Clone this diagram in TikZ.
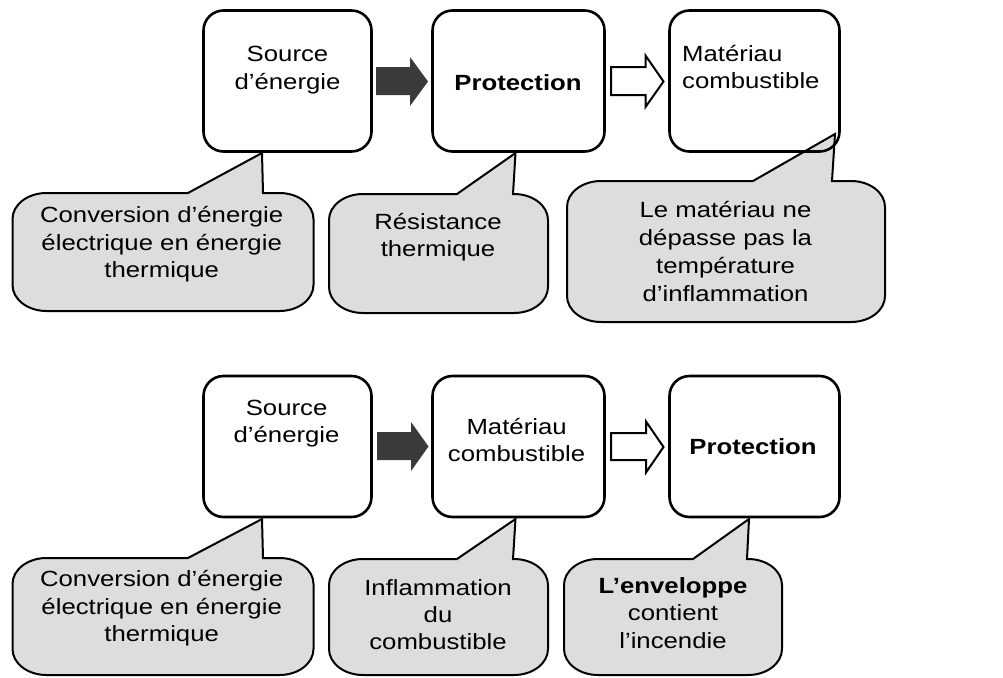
\documentclass[tikz,border=0pt]{standalone}
\usepackage{fontspec}
\setmainfont{Liberation Sans}[FakeStretch=1.17]
\definecolor{callgray}{RGB}{221,221,221}
\definecolor{arrdark}{RGB}{58,58,58}
\newcommand{\st}{\rule{0pt}{19pt}}
% #1 x1, #2 y1, #3 x2, #4 y2, #5 left base, #6 right base, #7 tip x, #8 tip y
\newcommand{\calloutshape}[8]{%
  \draw[calloutbox] (#5,#2) -- (#7,#8) -- (#6,#2)
  -- ({#3-34},#2) .. controls ({#3-15.2},#2) and (#3,{#2+11.6}) .. (#3,{#2+26})
  -- (#3,{#4-26}) .. controls (#3,{#4-11.6}) and ({#3-15.2},#4) .. ({#3-34},#4)
  -- ({#1+34},#4) .. controls ({#1+15.2},#4) and (#1,{#4-11.6}) .. (#1,{#4-26})
  -- (#1,{#2+26}) .. controls (#1,{#2+11.6}) and ({#1+15.2},#2) .. ({#1+34},#2)
  -- cycle;}
\begin{document}
\begin{tikzpicture}[x=1pt,y=-1pt,
  stepbox/.style={draw=black, line width=2.6pt, rounded corners=20pt, minimum height=141pt, inner sep=0pt},
  calloutbox/.style={draw=black, fill=callgray, line width=2pt, line join=miter},
  txt/.style={font=\fontsize{22}{27.5}\selectfont, align=center, inner sep=0pt, anchor=north},
  darkarrow/.style={fill=arrdark, draw=none},
  openarrow/.style={fill=white, draw=black, line width=2pt, line join=miter}]
\useasboundingbox (0,0) rectangle (1003,677);

% ---------- top row ----------
\calloutshape{12.5}{193}{313.5}{311}{188}{263}{262}{153}
\calloutshape{329}{194}{548}{313}{457}{513}{515.5}{153}
\calloutshape{567}{181}{885}{322}{753}{832}{835}{134}

\node[stepbox, minimum width=168pt] (A1) at (287.5,81) {};
\node[stepbox, minimum width=172pt] (A2) at (518.5,81) {};
\node[stepbox, minimum width=170pt] (A3) at (754.5,81) {};

\fill[darkarrow] (376,67) -- (410,67) -- (410,57) -- (428,81.5) -- (410,106) -- (410,95) -- (376,95) -- cycle;
\draw[openarrow] (611,67) -- (645.5,67) -- (645.5,55.5) -- (663.5,81.5) -- (645.5,107) -- (645.5,95) -- (611,95) -- cycle;

\node[txt] (tA1) at (287.5,42.7) {\st Source\\d’énergie};
\node[txt, font=\fontsize{22}{27.5}\selectfont\bfseries] (tA2) at (518,71.7) {\st Protection};
\node[txt, align=left, anchor=north west] (tA3) at (682,42) {\st Matériau\\combustible};

\node[txt] (cA1) at (161.7,203.5) {\st Conversion d’énergie\\électrique en énergie\\thermique};
\node[txt] (cA2) at (438,210) {\st Résistance\\thermique};
\node[txt, font=\fontsize{22}{28}\selectfont] (cA3) at (725.5,198) {\st Le matériau ne\\dépasse pas la\\température\\d’inflammation};

% ---------- bottom row ----------
\calloutshape{12.5}{558}{313.5}{675}{188}{263}{262}{519}
\calloutshape{329}{559}{548}{675}{457}{513}{515.5}{519}
\calloutshape{564}{559}{782}{675}{693}{747}{749}{519}

\node[stepbox, minimum width=168pt] (B1) at (287.5,446.5) {};
\node[stepbox, minimum width=172pt] (B2) at (518.5,446.5) {};
\node[stepbox, minimum width=170pt] (B3) at (754.5,446.5) {};

\fill[darkarrow] (377,432) -- (411,432) -- (411,422) -- (428.5,446.5) -- (411,471) -- (411,460) -- (377,460) -- cycle;
\draw[openarrow] (611,433) -- (646,433) -- (646,421.5) -- (663.5,447) -- (646,472.5) -- (646,460) -- (611,460) -- cycle;

\node[txt] (tB1) at (286.6,396) {\st Source\\d’énergie};
\node[txt] (tB2) at (516.6,415) {\st Matériau\\combustible};
\node[txt, font=\fontsize{22}{27.5}\selectfont\bfseries] (tB3) at (753,435) {\st Protection};

\node[txt] (cB1) at (161.7,567.7) {\st Conversion d’énergie\\électrique en énergie\\thermique};
\node[txt, font=\fontsize{22}{27}\selectfont] (cB2) at (438,576) {\st Inflammation\\du\\combustible};
\node[txt] (cB3) at (673,574) {\st\textbf{L’enveloppe}\\contient\\l’incendie};
\end{tikzpicture}
\end{document}
